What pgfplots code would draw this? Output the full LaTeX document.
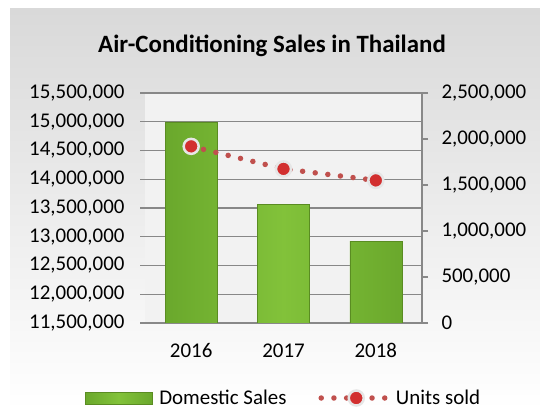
\documentclass[border=0pt]{standalone}
\usepackage{pgfplots}
\pgfplotsset{compat=1.18}
\usepackage{fontspec}
\setmainfont{Carlito}
\definecolor{gridgray}{HTML}{888888}
\definecolor{barmid}{HTML}{82C23A}
\definecolor{baredge}{HTML}{6AA82C}
\definecolor{bardraw}{HTML}{5A8C22}
\definecolor{dotred}{HTML}{C0504D}
\definecolor{markred}{HTML}{D22F2F}
\definecolor{ringgray}{HTML}{E6E6E6}
\definecolor{outertop}{HTML}{D9D9D9}
\definecolor{plotbg}{HTML}{F2F2F2}
\pgfplotsset{
  dotleg/.style={legend image code/.code={\draw[mark repeat=2,mark phase=2,##1] plot coordinates {(0bp,0bp) (35bp,0bp) (70bp,0bp)};}},
  barleg/.style={legend image code/.code={\path[left color=baredge,right color=baredge,middle color=barmid,draw=bardraw] (-4bp,-6bp) rectangle (63bp,6bp);\path (68bp,0bp);}},
}
\begin{document}
\begin{tikzpicture}
\useasboundingbox (0bp,0bp) rectangle (540bp,410bp);
\shade[top color=outertop, bottom color=white] (10bp,0bp) rectangle (540bp,401bp);
\node[font=\fontsize{25}{29}\selectfont\bfseries] at (272bp,364bp) {Air-Conditioning Sales in Thailand};
\begin{axis}[
  at={(145bp,87bp)}, anchor=south west, scale only axis,
  width=277bp, height=230bp,
  xmin=-0.5, xmax=2.5,
  ymin=11500000, ymax=15500000, ytick distance=500000,
  scaled y ticks=false,
  axis y line*=left, axis x line*=bottom,
  y axis line style={draw=none},
  x axis line style={gridgray, line width=1.2bp},
  ymajorgrids, major grid style={gridgray, line width=1.2bp},
  ytick style={gridgray, line width=1.2bp},
  xtick style={draw=none},
  tick align=outside, major tick length=5bp,
  xtick={0,1,2}, xticklabels={2016,2017,2018},
  tick label style={font=\fontsize{21}{25}\selectfont},
  yticklabel style={xshift=-12bp, /pgf/number format/.cd, fixed, 1000 sep={,}, assume math mode=true},
  xticklabel style={yshift=-12bp},
  axis background/.style={fill=plotbg},
]
\addplot[ybar, bar width=52bp, bar shift=0pt, left color=baredge, right color=baredge, middle color=barmid, draw=bardraw]
  coordinates {(0,15000000) (1,13565000) (2,12925000)};
\end{axis}
\begin{axis}[
  at={(145bp,87bp)}, anchor=south west, scale only axis,
  width=277bp, height=230bp,
  xmin=-0.5, xmax=2.5,
  ymin=0, ymax=2500000, ytick distance=500000,
  scaled y ticks=false,
  axis x line=none, axis y line*=right,
  y axis line style={gridgray, line width=1.2bp},
  ytick style={gridgray, line width=1.2bp},
  tick align=outside, major tick length=6bp,
  tick label style={font=\fontsize{21}{25}\selectfont},
  yticklabel style={xshift=10bp, /pgf/number format/.cd, fixed, 1000 sep={,}, assume math mode=true},
  legend columns=2,
  legend style={at={(0.5,0)}, anchor=center, yshift=-75bp, draw=none, fill=none,
    font=\fontsize{21}{25}\selectfont,
    /tikz/every even column/.append style={column sep=30bp}},
]
\addlegendimage{barleg}
\addlegendentry{Domestic Sales}
\addplot[color=dotred, line width=5.5bp, line cap=round, dash pattern=on 0pt off 12.7bp,
  mark=*, mark size=7.5bp,
  mark options={solid, fill=markred, draw=ringgray, line width=2.5bp}, dotleg]
  coordinates {(0,1920000) (1,1675000) (2,1550000)};
\addlegendentry{Units sold}
\end{axis}
\end{tikzpicture}
\end{document}
